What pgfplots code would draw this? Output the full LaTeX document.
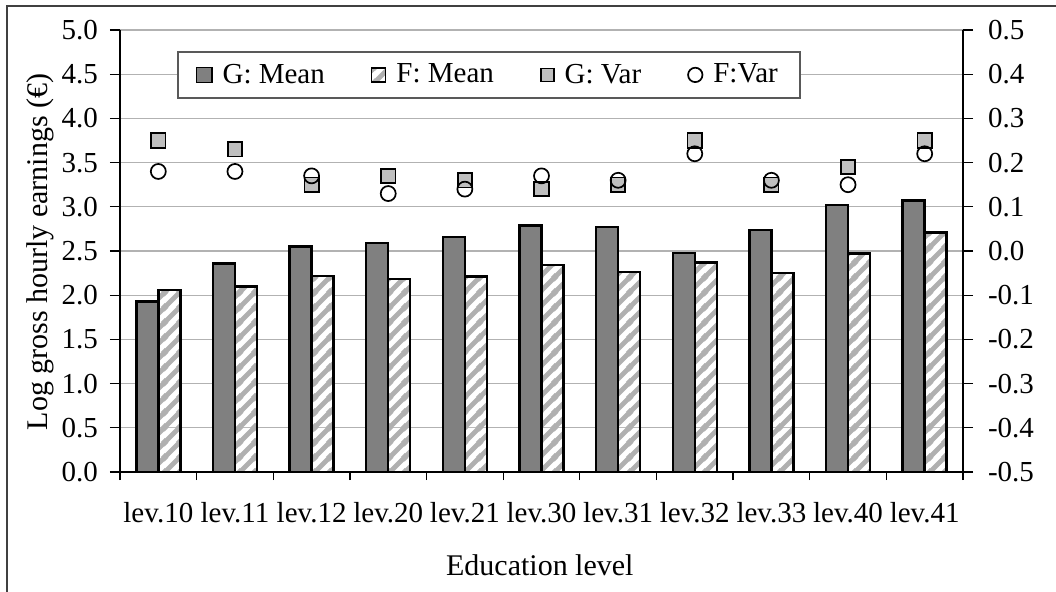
\documentclass[border=0pt]{standalone}
\usepackage{pgfplots}
\pgfplotsset{compat=1.18}
\usepackage{fontspec}
\setmainfont{Liberation Serif}
\usetikzlibrary{patterns.meta}

% white tile with grey "/" stripes, like the F bars
\tikzdeclarepattern{
  name=fstripes,
  type=colored,
  bottom left={(0pt,0pt)},
  top right={(7.5pt,7.5pt)},
  tile size={(7.5pt,7.5pt)},
  code={
    \fill[white] (0pt,0pt) rectangle (7.5pt,7.5pt);
    \draw[line width=2.5pt, gray!62] (-1pt,-1pt) -- (8.5pt,8.5pt);
    \draw[line width=2.5pt, gray!62] (-1pt,6.5pt) -- (1pt,8.5pt);
    \draw[line width=2.5pt, gray!62] (6.5pt,-1pt) -- (8.5pt,1pt);
  }
}

\pgfplotsset{
  common/.style={
    scale only axis, width=421.5pt, height=221pt,
    at={(0,0)}, anchor=south west,
    xmin=-0.5, xmax=10.5,
    tick align=outside,
    major tick length=5pt,
    tick style={black, line width=0.6pt},
    axis line style={black, line width=0.6pt},
    ticklabel style={font=\fontsize{14.5}{17}\selectfont},
    /pgf/number format/.cd, fixed, fixed zerofill, precision=1, assume math mode=true,
  },
}

\begin{document}
\begin{tikzpicture}
\useasboundingbox (-60pt,-59.5pt) rectangle (468pt,236pt);
\clip (-60pt,-59.5pt) rectangle (468pt,236pt);
\draw[line width=1pt, black!75] (-56.5pt,-80pt) rectangle (490pt,233pt);

\begin{axis}[common,
  ymin=0, ymax=5, ytick={0,0.5,...,5},
  axis x line*=bottom, axis y line*=left,
  ymajorgrids, grid style={gray!60, line width=0.65pt},
  xtick={0,...,10},
  xticklabels={lev.10,lev.11,lev.12,lev.20,lev.21,lev.30,lev.31,lev.32,lev.33,lev.40,lev.41},
  minor xtick={-0.5,0.5,...,10.5},
  major x tick style={draw=none},
  minor tick length=4pt,
  xticklabel style={yshift=-6.5pt},
  yticklabel style={xshift=-2.5pt},
  ybar=0pt, bar width=11pt,
  xlabel={Education level},
  ylabel={Log gross hourly earnings (€)},
  label style={font=\fontsize{15}{18}\selectfont},
  xlabel style={at={(axis description cs:0.498,-0.21)}, anchor=center},
  ylabel style={at={(axis description cs:-0.095,0.498)}, anchor=center, rotate=0},
  legend columns=4,
  legend style={at={(0.0676,0.9525)}, anchor=north west,
    draw=black!65, line width=0.8pt, inner xsep=9pt, inner ysep=4pt,
    font=\fontsize{14.5}{17}\selectfont,
    /tikz/every odd column/.append style={column sep=3pt},
    /tikz/every even column/.append style={column sep=21pt}},
]
\addplot[draw=black, line width=1.2pt, fill=gray,
  legend image code/.code={\draw[draw=black, fill=gray, line width=0.8pt] (0pt,-3.8pt) rectangle (7.6pt,3.8pt);}]
  coordinates {(0,1.93) (1,2.36) (2,2.55) (3,2.59) (4,2.66) (5,2.79) (6,2.77) (7,2.48) (8,2.74) (9,3.02) (10,3.07)};
\addlegendentry{G: Mean}
\addplot[draw=black, line width=1.2pt, pattern=fstripes,
  legend image code/.code={\draw[draw=black, pattern=fstripes, line width=0.8pt] (0pt,-3.5pt) rectangle (7pt,3.5pt);}]
  coordinates {(0,2.06) (1,2.10) (2,2.22) (3,2.18) (4,2.21) (5,2.34) (6,2.26) (7,2.37) (8,2.25) (9,2.47) (10,2.71)};
\addlegendentry{F: Mean}
\addlegendimage{legend image code/.code={\draw[draw=black, fill=gray!50!white, line width=0.8pt] (0pt,-3.3pt) rectangle (6.6pt,3.3pt);}}
\addlegendentry{G: Var}
\addlegendimage{legend image code/.code={\draw[draw=black, line width=0.85pt] (3.5pt,0pt) circle (3.6pt);}}
\addlegendentry{F:Var}
\end{axis}

\begin{axis}[common,
  ymin=-0.5, ymax=0.5,
  ytick={-0.5,-0.4,-0.3,-0.2,-0.1,0,0.1,0.2,0.3,0.4,0.5},
  axis y line*=right, axis x line=none,
  yticklabel style={xshift=4pt},
]
\addplot[only marks, mark=square*, mark size=3.6pt,
  mark options={draw=black, fill=gray!50!white, line width=0.85pt}]
  coordinates {(0,0.25) (1,0.23) (2,0.15) (3,0.17) (4,0.16) (5,0.14) (6,0.15) (7,0.25) (8,0.15) (9,0.19) (10,0.25)};
\addplot[only marks, mark=o, mark size=3.75pt,
  mark options={draw=black, line width=0.85pt}]
  coordinates {(0,0.18) (1,0.18) (2,0.17) (3,0.13) (4,0.14) (5,0.17) (6,0.16) (7,0.22) (8,0.16) (9,0.15) (10,0.22)};
\end{axis}
\end{tikzpicture}
\end{document}
